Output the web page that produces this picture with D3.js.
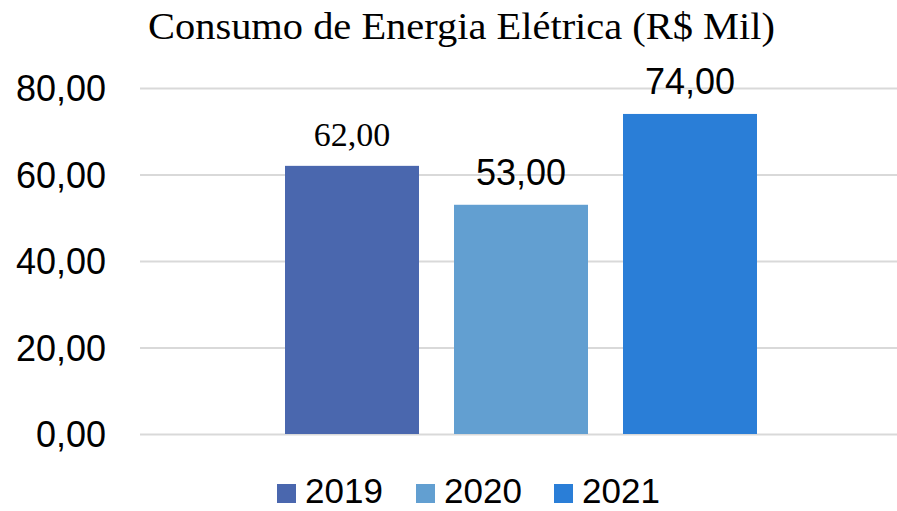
<!DOCTYPE html>
<html>
<head>
<meta charset="utf-8">
<script src="https://cdn.jsdelivr.net/npm/d3@7"></script>
<style>
  html, body { margin: 0; padding: 0; background: #ffffff; }
  svg { display: block; }
</style>
</head>
<body>
<svg id="chart" width="897" height="511"></svg>
<script>
// Consumo anual de energia elétrica (R$ mil)
const years = ["2019", "2020", "2021"];
const values = [62, 53, 74];
const colors = ["#4a67ae", "#629fd1", "#2a7ed7"];
const yTicks = [0, 20, 40, 60, 80];
const title = "Consumo de Energia Elétrica (R$ Mil)";

const svg = d3.select("#chart");

const plot = { left: 140, right: 897, top: 88, bottom: 434 };

const fmt = v => d3.format(".2f")(v).replace(".", ",");

const y = d3.scaleLinear().domain([0, 80]).range([plot.bottom, plot.top]);
const x = d3.scaleBand().domain(years).range([285, 757]).paddingInner(35 / 169).paddingOuter(0);

const sans = "'Liberation Sans', Arial, sans-serif";
const serif = "'Liberation Serif', 'Times New Roman', serif";

// Title
svg.append("text")
  .attr("x", 148).attr("y", 39)
  .attr("font-family", serif)
  .attr("font-size", 38)
  .attr("textLength", 627)
  .attr("lengthAdjust", "spacingAndGlyphs")
  .attr("fill", "#000")
  .text(title);

// Gridlines and y axis labels
const yAxis = d3.axisLeft(y).tickValues(yTicks).tickFormat(fmt)
  .tickSize(-(plot.right - plot.left)).tickPadding(34);
const gy = svg.append("g").attr("transform", `translate(${plot.left},0)`).call(yAxis);
gy.select(".domain").remove();
gy.selectAll(".tick line").attr("stroke", "#d9d9d9").attr("stroke-width", 2);
gy.selectAll(".tick text")
  .attr("font-family", sans).attr("font-size", 36).attr("fill", "#000")
  .attr("dy", "0.35em");

// Bars
svg.append("g").selectAll("rect")
  .data(years)
  .join("rect")
  .attr("x", d => x(d))
  .attr("width", x.bandwidth())
  .attr("y", (d, i) => y(values[i]))
  .attr("height", (d, i) => y(0) - y(values[i]))
  .attr("fill", (d, i) => colors[i]);

// Value labels (first one uses the serif face)
svg.append("g").selectAll("text")
  .data(years)
  .join("text")
  .attr("x", d => x(d) + x.bandwidth() / 2)
  .attr("y", (d, i) => y(values[i]) - 20)
  .attr("text-anchor", "middle")
  .attr("font-family", (d, i) => i === 0 ? serif : sans)
  .attr("font-size", (d, i) => i === 0 ? 34 : 36)
  .attr("fill", "#000")
  .text((d, i) => fmt(values[i]));

// Legend
const legendX = [277, 416, 554];
const lg = svg.append("g").selectAll("g")
  .data(years)
  .join("g")
  .attr("transform", (d, i) => `translate(${legendX[i]},0)`);
lg.append("rect")
  .attr("x", 0).attr("y", 484)
  .attr("width", 19).attr("height", 19)
  .attr("fill", (d, i) => colors[i]);
lg.append("text")
  .attr("x", 28).attr("y", 503)
  .attr("font-family", sans).attr("font-size", 35).attr("fill", "#000")
  .text(d => d);
</script>
</body>
</html>
